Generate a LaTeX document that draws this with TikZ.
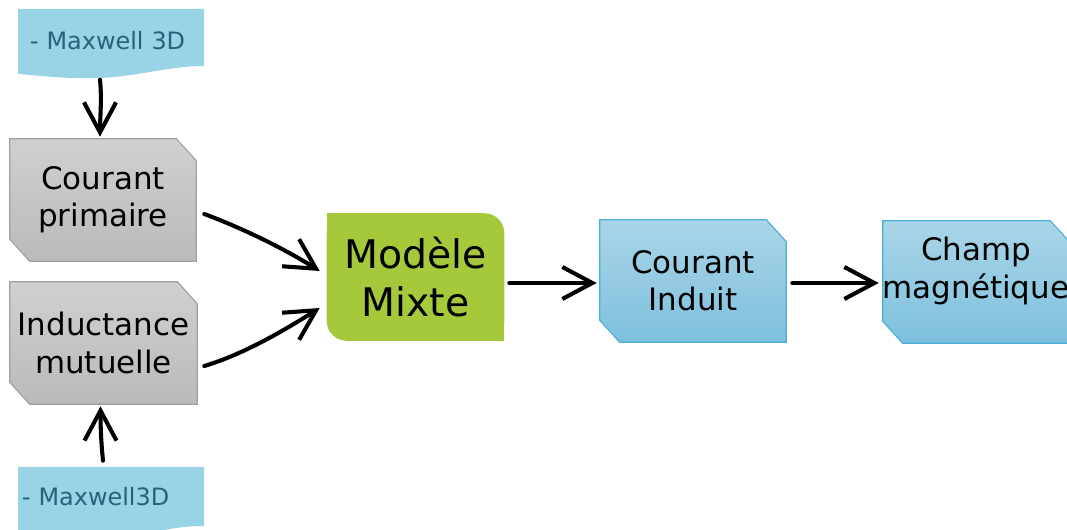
\documentclass[tikz,border=0pt]{standalone}
\usepackage{fontspec}
\setmainfont{DejaVu Sans}
\usetikzlibrary{arrows.meta,calc,backgrounds}

\definecolor{docblue}{RGB}{152,212,230}
\definecolor{doctext}{RGB}{38,98,122}
\definecolor{graytop}{RGB}{208,208,208}
\definecolor{graybot}{RGB}{186,186,186}
\definecolor{grayline}{RGB}{160,160,160}
\definecolor{modgreen}{RGB}{165,201,58}
\definecolor{bluetop}{RGB}{170,213,232}
\definecolor{bluebot}{RGB}{125,192,221}
\definecolor{blueline}{RGB}{74,175,216}

% chamfered background behind a node: node, top colour, bottom colour, border
\newcommand{\cutbg}[4]{%
  \shadedraw[top color=#2, bottom color=#3, draw=#4, line width=0.8pt]
    (#1.north west) -- ($(#1.north east)+(-20,0)$) -- ($(#1.north east)+(0,22)$)
    -- (#1.south east) -- ($(#1.south west)+(20,0)$) -- ($(#1.south west)+(0,-22)$) -- cycle;}

\tikzset{
    cutbox/.style={rectangle, minimum width=4.65cm, minimum height=3.05cm, inner sep=0pt,
        align=center, font=\fontsize{22}{26.5}\selectfont},
    docbox/.style={text width=4.45cm, inner xsep=0.1cm, inner ysep=0pt, minimum height=1.55cm,
        align=left, text=doctext, font=\fontsize{17}{20}\selectfont},
    flow/.style={-{Straight Barb[length=0.75cm, width=0.8cm]}, line width=2.9pt,
        line cap=round, line join=round}
}

\begin{document}
\begin{tikzpicture}[x=0.025cm, y=-0.025cm]
\useasboundingbox (0,0) rectangle (1067,530);
\clip (0,0) rectangle (1067,530);

% source documents
\fill[docblue] (18,9) -- (204,9) -- (204,66) .. controls (170,66) and (140,76) .. (100,78)
    .. controls (60,79) and (35,75) .. (18,74) -- cycle;
\fill[docblue] (18,467) -- (204,467) -- (204,526) .. controls (170,526) and (150,535) .. (110,537)
    -- (18,537) -- cycle;
\node[docbox, text width=4.05cm, inner xsep=0.3cm] (mxtop) at (111,40.5) {- Maxwell 3D};
\node[docbox] (mxbot) at (111,497) {- Maxwell3D};

% inputs
\node[cutbox] (cp) at (103,200) {Courant\\primaire};
\node[cutbox, minimum width=4.675cm] (im) at (103.5,343) {Inductance\\mutuelle};

% model
\node[minimum width=4.425cm, minimum height=3.175cm, inner sep=0pt, align=center,
    font=\fontsize{28}{33.5}\selectfont] (mod) at (415.5,277) {Modèle\\Mixte};

% outputs
\node[cutbox] (ci) at (693,281) {Courant\\Induit};
\node[cutbox, minimum width=4.675cm] (champ) at (976.5,282) {};
\node[align=center, font=\fontsize{22}{26.5}\selectfont] (champtxt) at (976,271) {Champ\\magnétique};

\begin{scope}[on background layer]
    \cutbg{cp}{graytop}{graybot}{grayline}
    \cutbg{im}{graytop}{graybot}{grayline}
    \cutbg{ci}{bluetop}{bluebot}{blueline}
    \cutbg{champ}{bluetop}{bluebot}{blueline}
    \fill[modgreen, rounded corners=0.5cm] (mod.south west) rectangle (mod.north east);
    \fill[modgreen] (mod.north west) rectangle (mod.center);
    \fill[modgreen] (mod.center) rectangle (mod.south east);
\end{scope}

% connectors
\draw[flow] ($(mxtop.south)+(-11,8)$) .. controls +(2,20) and +(0,-20) .. ($(cp.north)+(-3,-2)$);
\draw[flow] ($(mxbot.north)+(-8,-5)$) .. controls +(-2,-20) and +(0,20) .. ($(im.south)+(-3,2)$);
\draw[flow] ($(cp.east)+(8,14)$) .. controls +(40,15) and +(-35,-22) .. ($(mod.west)+(-7,-6)$);
\draw[flow] ($(im.east)+(7,23)$) .. controls +(40,-12) and +(-35,22) .. ($(mod.west)+(-7,31)$);
\draw[flow] ($(mod.east)+(5,6)$) -- ($(ci.west)+(-3,2)$);
\draw[flow] ($(ci.east)+(6,2)$) -- ($(champ.west)+(-4,1)$);

\end{tikzpicture}
\end{document}
